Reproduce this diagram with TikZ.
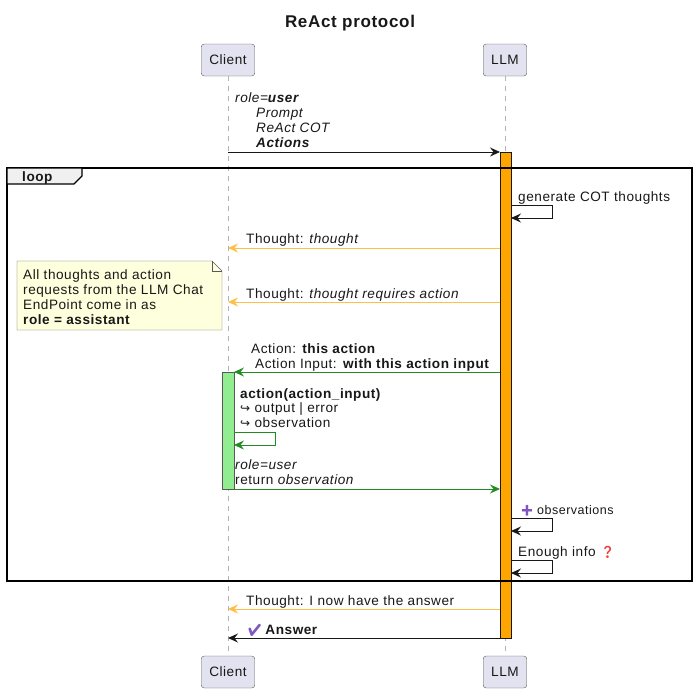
\documentclass[tikz,border=0pt]{standalone}
\usepackage{fontspec}
\setmainfont{Liberation Sans}[LetterSpace=4]
\newfontfamily\symfont{DejaVu Sans}
\newfontfamily\emofont{Noto Emoji}
\usetikzlibrary{arrows.meta}
\definecolor{actorfill}{HTML}{E2E2F0}
\definecolor{actorline}{HTML}{5A5A5A}
\definecolor{notefill}{HTML}{FEFFDD}
\definecolor{thoughtc}{HTML}{FFBE46}
\definecolor{barorange}{HTML}{FFA500}
\definecolor{actgreen}{HTML}{228B22}
\definecolor{bargreen}{HTML}{90EE90}
\definecolor{emopurple}{HTML}{7E57C2}
\definecolor{emored}{HTML}{F03A3A}
\definecolor{inkc}{HTML}{181818}

\begin{document}
\begin{tikzpicture}[x=1pt,y=-1pt,
  every node/.style={font=\fontsize{13.6}{15.3}\selectfont, inner sep=0pt, text=inkc},
  actor/.style={draw=actorline, fill=actorfill, rounded corners=3pt, minimum height=32pt, inner xsep=8pt},
  lbl/.style={anchor=base west},
  lifeline/.style={draw=gray!60, line width=0.8pt, dash pattern=on 5pt off 5pt},
  msg/.style={-{Stealth[length=10pt,width=9pt,inset=3.5pt]}, line width=0.9pt, draw=inkc},
  thought/.style={msg, draw=thoughtc},
  greenmsg/.style={msg, draw=actgreen}]
\useasboundingbox (0,0) rectangle (694,689);

\node[font=\fontsize{17}{20}\selectfont\bfseries] (title) at (350,23) {ReAct protocol};

%% participants top and bottom drawn with a loop
\foreach \y/\s in {60/t,672/b}{
  \node[actor] (client\s) at (228,\y) {Client};
  \node[actor] (llm\s) at (505,\y) {LLM};
}
\draw[lifeline] (clientt) -- (clientb);
\draw[lifeline] (llmt) -- (llmb);

%% activations
\node[draw=inkc, fill=barorange, minimum width=11pt, minimum height=486pt] (llmbar) at (505.5,395) {};
\node[draw=gray!70!black, fill=bargreen, minimum width=12pt, minimum height=117pt] (toolbar) at (228,430.5) {};

%% loop frame
\draw[line width=1.4pt] (7,168) rectangle (692,581);
\draw[line width=1.2pt, fill=gray!12] (7,168) -- (82,168) -- (82,176) -- (74,184) -- (7,184) -- cycle;
\node[lbl, font=\fontsize{13.6}{15}\selectfont\bfseries] (looptag) at (22,181) {loop};

%% end points of the messages
\foreach \n/\y in {req/152, thA/248, thB/302, act/372, ret/489, thC/609, ans/638}{
  \coordinate (\n c) at (228,\y);
  \coordinate (\n l) at (500,\y);
}
\coordinate (actc) at (234,372);
\coordinate (retc) at (234,489);

%% first request
\node[anchor=north west, align=left] (prompt) at (235,92)
  {\itshape role=\textbf{user}\\
   \hspace*{21pt}\itshape Prompt\\
   \hspace*{21pt}\itshape ReAct COT\\
   \hspace*{21pt}\itshape\bfseries Actions};
\draw[msg] (reqc) -- (reql);

%% self messages on the LLM
\coordinate (cotA) at (511,205); \coordinate (cotB) at (511,218);
\node[lbl] (cot) at (518,201) {generate COT thoughts};
\draw[msg] (cotA) -- ++(41,0) |- (cotB);

\node[lbl] (thoughtA) at (246,243) {Thought: \textit{thought}};
\draw[thought] (thAl) -- (thAc);
\node[lbl] (thoughtB) at (246,298) {Thought: \textit{thought requires action}};
\draw[thought] (thBl) -- (thBc);

%% note
\draw[draw=gray!70!black, fill=notefill] (17,261) -- (212,261) -- (222,271) -- (222,330) -- (17,330) -- cycle;
\draw[draw=gray!70!black] (212,261) -- (212,271) -- (222,271);
\node[anchor=north west, align=left] (note) at (23,269)
  {All thoughts and action\\requests from the LLM Chat\\EndPoint come in as\\\textbf{role = assistant}};

%% action call
\node[anchor=north west, align=left] (action) at (251,343)
  {Action: \textbf{this action}\\\hspace*{4pt}Action Input: \textbf{with this action input}};
\draw[greenmsg] (actl) -- (actc);

\node[anchor=north west, align=left, font=\fontsize{13.6}{14.6}\selectfont] (call) at (240,388)
  {\textbf{action(action\_input)}\\{\symfont\fontsize{12}{14}\selectfont ↪} output | error\\{\symfont\fontsize{12}{14}\selectfont ↪} observation};
\coordinate (obsA) at (234,432); \coordinate (obsB) at (234,445);
\draw[greenmsg] (obsA) -- ++(41,0) |- (obsB);

\node[anchor=north west, align=left] (return) at (235,459)
  {\itshape role=user\\return \textit{observation}};
\draw[greenmsg] (retc) -- (retl);

%% more self messages
\node[lbl] (obs) at (520,514) {\textcolor{emopurple}{\emofont\fontsize{11}{13}\selectfont ➕}\hspace{3pt}\fontsize{12.5}{14}\selectfont observations};
\coordinate (plusA) at (511,518); \coordinate (plusB) at (511,531);
\draw[msg] (plusA) -- ++(41,0) |- (plusB);
\node[lbl] (enough) at (518,556) {Enough info \textcolor{emored}{\emofont\fontsize{12}{14}\selectfont ❓}};
\coordinate (infoA) at (511,560); \coordinate (infoB) at (511,573);
\draw[msg] (infoA) -- ++(41,0) |- (infoB);

%% final answer
\node[lbl] (thoughtC) at (246,605) {Thought: I now have the answer};
\draw[thought] (thCl) -- (thCc);
\node[lbl] (answer) at (247,634) {\textcolor{emopurple}{\emofont\fontsize{12}{14}\selectfont ✔}\hspace{3pt}\textbf{Answer}};
\draw[msg] (ansl) -- (ansc);
\end{tikzpicture}
\end{document}
